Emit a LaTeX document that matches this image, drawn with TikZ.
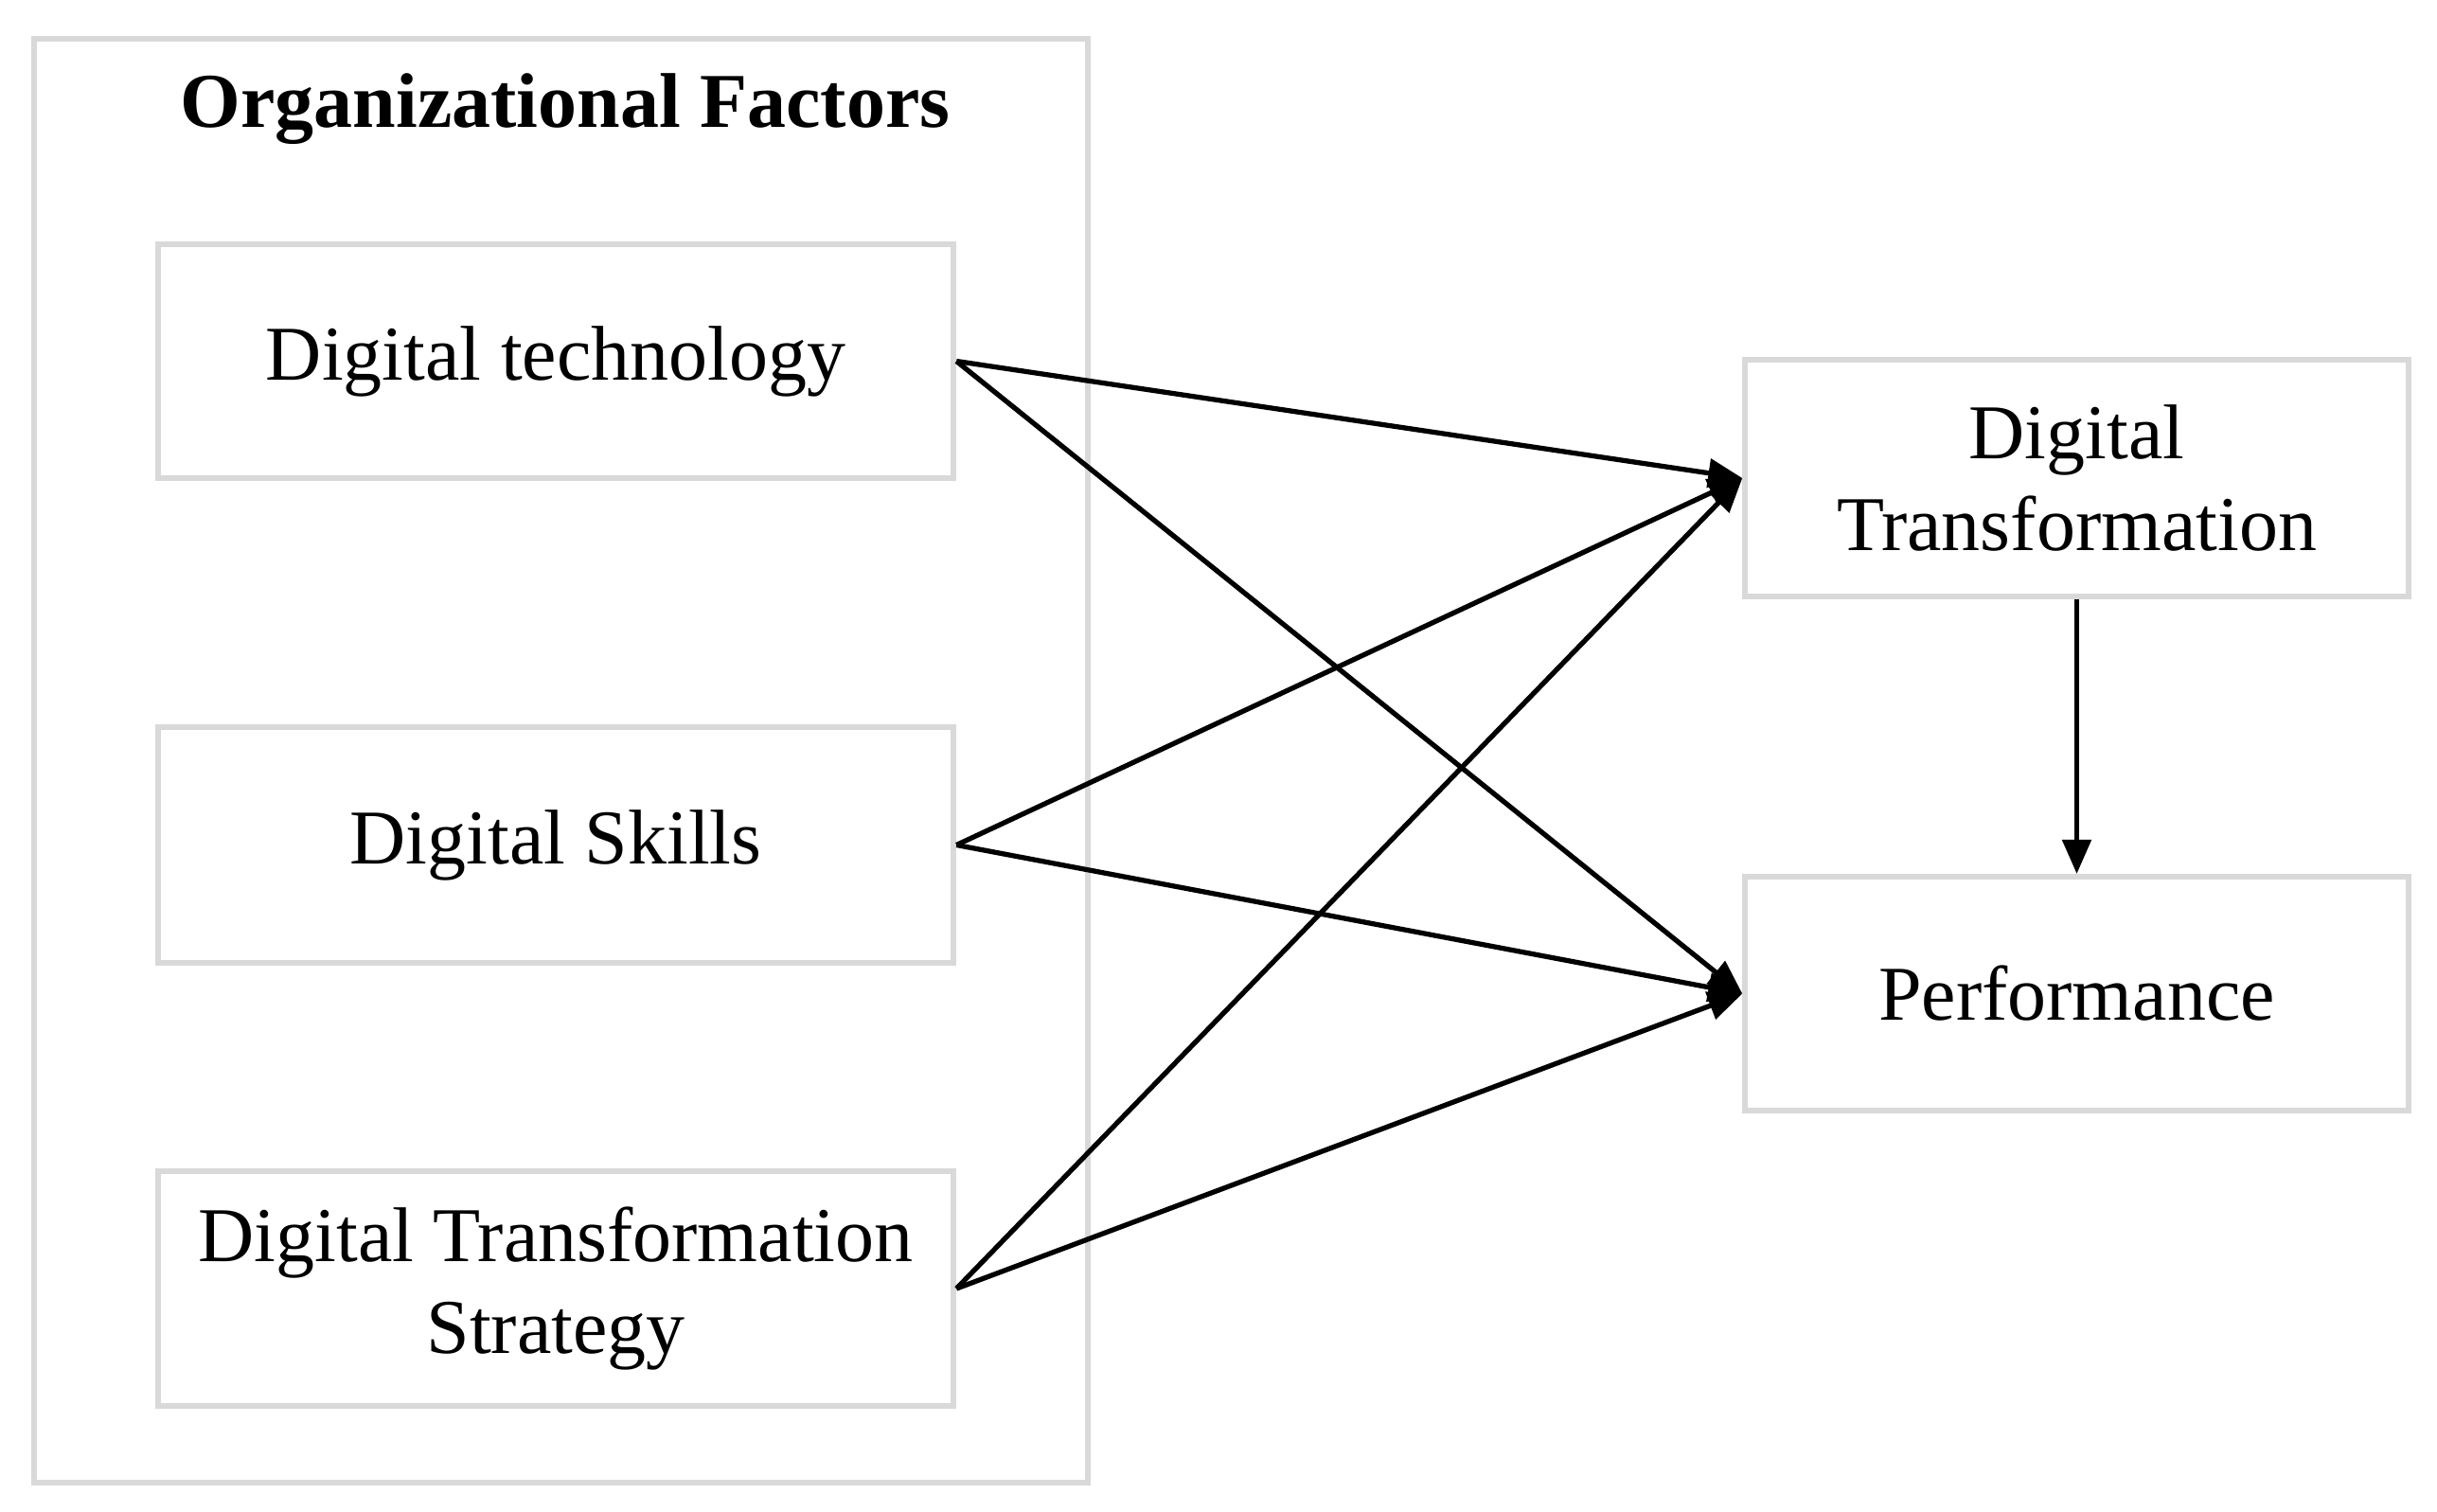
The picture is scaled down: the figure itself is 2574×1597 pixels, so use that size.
\documentclass[tikz,border=0pt]{standalone}
\usepackage{fontspec}
\setmainfont{Liberation Serif}
\usetikzlibrary{arrows.meta}

\definecolor{boxgray}{RGB}{217,217,217}
\tikzset{
	box/.style={draw=boxgray, line width=1.7pt, rectangle, align=center, inner sep=0pt,
		font=\fontsize{23.3pt}{27.6pt}\selectfont},
	link/.style={-{Triangle[length=0.36cm, width=0.3cm]}, line width=1.5pt, black}
}

\begin{document}
\begin{tikzpicture}[x=0.01cm, y=-0.01cm]
			\useasboundingbox (0,0) rectangle (2574,1597);
			\node[box, minimum width=11.13cm, minimum height=15.25cm] (org) at (592.5,803.5) {};
			\node[anchor=base, font=\fontsize{23.3pt}{27pt}\selectfont\bfseries] (title) at (597,135) {Organizational Factors};
			\node[box, minimum width=8.4cm, minimum height=2.47cm] (tech) at (587,381.5) {Digital technology};
			\node[box, minimum width=8.4cm, minimum height=2.49cm] (skills) at (587,892.5) {Digital Skills};
			\node[box, minimum width=8.4cm, minimum height=2.48cm] (strategy) at (587,1361) {Digital Transformation\\Strategy};
			\node[box, minimum width=7cm, minimum height=2.5cm] (dt) at (2193.5,505) {Digital\\Transformation};
			\node[box, minimum width=7cm, minimum height=2.47cm] (perf) at (2193.5,1049.5) {Performance};
			\path (tech.east) edge[link] (dt.west);
			\path (tech.east) edge[link] (perf.west);
			\path (skills.east) edge[link] (dt.west);
			\path (skills.east) edge[link] (perf.west);
			\path (strategy.east) edge[link] (dt.west);
			\path (strategy.east) edge[link] (perf.west);
			\path (dt.south) edge[link] (perf.north);
		\end{tikzpicture}
\end{document}
